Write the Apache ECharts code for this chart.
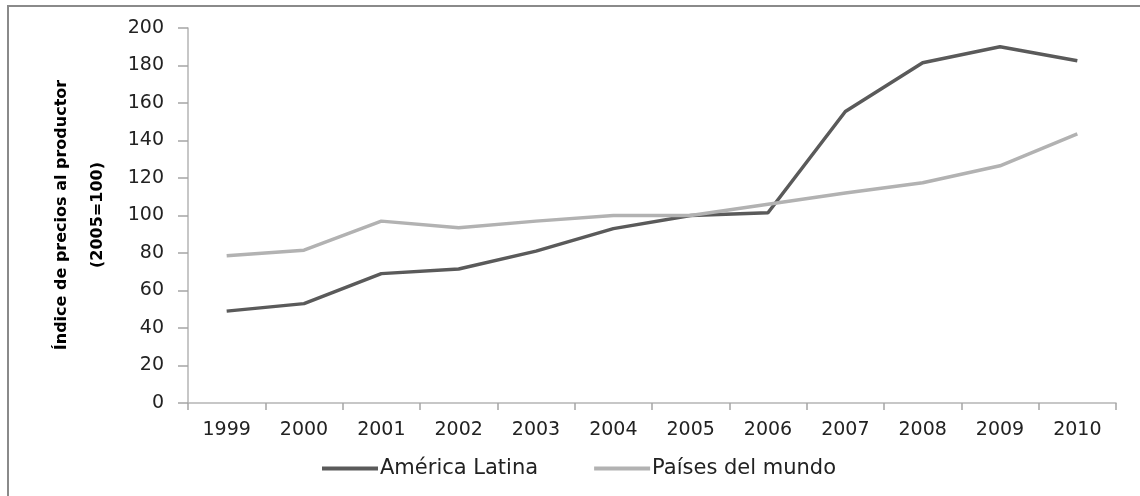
<!DOCTYPE html>
<html>
<head>
<meta charset="utf-8">
<script src="https://cdn.jsdelivr.net/npm/echarts@6/dist/echarts.min.js"></script>
<style>
html,body{margin:0;padding:0;background:#fff;}
#chart{width:1140px;height:496px;}
</style>
</head>
<body>
<div id="chart"></div>
<script>
var years = ['1999','2000','2001','2002','2003','2004','2005','2006','2007','2008','2009','2010'];
var americaLatina = [49, 53, 69, 71.5, 81, 93, 100, 101.5, 155.5, 181.5, 190, 182.5];
var paisesMundo = [78.5, 81.5, 97, 93.5, 97, 100, 100, 106, 112, 117.5, 126.5, 143.5];
var seriesNames = ['América Latina', 'Países del mundo'];
var yTitle = 'Índice de precios al productor\n(2005=100)';

var chart = echarts.init(document.getElementById('chart'), null, {renderer: 'canvas'});
var option = {
  backgroundColor: '#ffffff',
  animation: false,
  grid: {left: 188, right: 24, top: 28, bottom: 93},
  graphic: [
    {type: 'rect', shape: {x: 8, y: 6, width: 1200, height: 560},
     style: {fill: 'none', stroke: '#8a8a8a', lineWidth: 2}, silent: true},
    {type: 'text', x: 80, y: 215, rotation: Math.PI / 2,
     style: {text: yTitle, fontFamily: 'DejaVu Sans',
       fontWeight: 'bold', fontSize: 16, lineHeight: 36, fill: '#000',
       textAlign: 'center', textVerticalAlign: 'middle'}}
  ],
  legend: {
    left: 322, top: 458, padding: 0,
    icon: 'rect', itemWidth: 56, itemHeight: 4, itemGap: 56,
    textStyle: {fontFamily: 'DejaVu Sans', fontSize: 21, color: '#222', padding: [0, 0, 0, -3]},
    data: seriesNames
  },
  xAxis: {
    type: 'category', data: years, boundaryGap: true,
    axisLine: {lineStyle: {color: '#b5b5b5', width: 1.5}},
    axisTick: {show: true, length: 7, lineStyle: {color: '#a5a5a5', width: 1.5}},
    axisLabel: {fontFamily: 'DejaVu Sans', fontSize: 19, color: '#222', margin: 18},
    splitLine: {show: false}
  },
  yAxis: {
    type: 'value', min: 0, max: 200, interval: 20,
    axisLine: {show: true, lineStyle: {color: '#b5b5b5', width: 1.5}},
    axisTick: {show: true, length: 10, lineStyle: {color: '#a5a5a5', width: 1.5}},
    axisLabel: {fontFamily: 'DejaVu Sans', fontSize: 19, color: '#222', margin: 24},
    splitLine: {show: false}
  },
  series: [
    {name: seriesNames[0], type: 'line', data: americaLatina, showSymbol: false, symbol: 'none',
     lineStyle: {color: '#5a5a5a', width: 3.5}, itemStyle: {color: '#5a5a5a'}},
    {name: seriesNames[1], type: 'line', data: paisesMundo, showSymbol: false, symbol: 'none',
     lineStyle: {color: '#b2b2b2', width: 3.5}, itemStyle: {color: '#b2b2b2'}}
  ]
};
chart.setOption(option);
</script>
</body>
</html>
